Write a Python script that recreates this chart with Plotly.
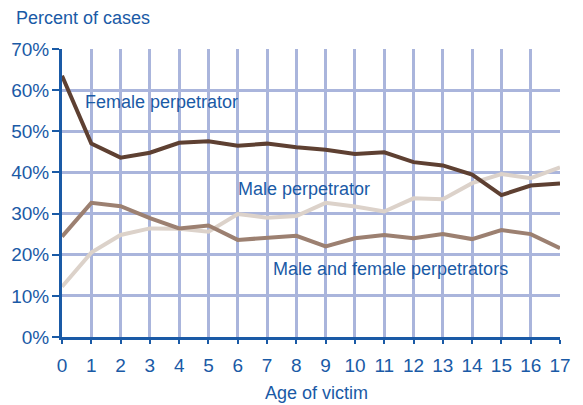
import plotly.graph_objects as go

ages = list(range(18))
female = [63.5, 47.0, 43.6, 44.8, 47.2, 47.6, 46.5, 47.0, 46.1, 45.5, 44.5, 44.9, 42.5, 41.7, 39.5, 34.5, 36.8, 37.3]
male = [12.2, 20.5, 24.8, 26.4, 26.3, 25.6, 29.9, 29.0, 29.4, 32.6, 31.7, 30.5, 33.7, 33.5, 37.4, 39.6, 38.6, 41.2]
both = [24.4, 32.6, 31.8, 28.9, 26.4, 27.1, 23.6, 24.0, 24.6, 22.0, 24.0, 24.8, 24.0, 25.0, 23.8, 26.0, 25.0, 21.6]
y_ticks = [0, 10, 20, 30, 40, 50, 60, 70]
y_ticklabels = [f"{v}%" for v in y_ticks]

blue = "#1a5aa6"
grid = "#aab5dc"
font = "Liberation Sans, Arial, sans-serif"

# page body has an 8px margin; plot area target in page px: x 62..560, y 49..337
L, R, T, B = 54, 31, 41, 76
PW, PH = 583 - L - R, 405 - T - B

fig = go.Figure()
fig.add_trace(go.Scatter(x=ages, y=male, mode="lines", line=dict(color="#dcd2ca", width=4), hoverinfo="skip"))
fig.add_trace(go.Scatter(x=ages, y=both, mode="lines", line=dict(color="#9c8071", width=4), hoverinfo="skip"))
fig.add_trace(go.Scatter(x=ages, y=female, mode="lines", line=dict(color="#5e4032", width=4), hoverinfo="skip"))

def label(x, y, text, **kw):
    fig.add_annotation(x=x, y=y, text=text, showarrow=False, xanchor="left", yanchor="middle",
                       font=dict(color=blue, size=18, family=font), **kw)

label(0.72, 57.0, "Female perpetrator")
label(5.93, 36.0, "Male perpetrator")
label(7.12, 16.6, "Male and female perpetrators")
label((14 - 8 - L) / PW, 1 + (41 + 8 - 18) / PH, "Percent of cases", xref="paper", yref="paper")
fig.add_annotation(x=(316 - 8 - L) / PW, y=-(393 - 337) / PH, xref="paper", yref="paper", text="Age of victim",
                   showarrow=False, xanchor="center", yanchor="middle",
                   font=dict(color=blue, size=18, family=font))

fig.update_layout(
    width=583, height=405,
    margin=dict(l=L, r=R, t=T, b=B),
    paper_bgcolor="white", plot_bgcolor="white",
    showlegend=False,
    font=dict(family=font, color=blue, size=18),
)

fig.update_xaxes(range=[0, 17], tickvals=ages, showgrid=True, gridcolor=grid, gridwidth=2.5,
                 showline=True, linecolor=blue, linewidth=3, ticks="outside", tickcolor=blue, ticklen=4, tickwidth=1.5,
                 ticklabelstandoff=5,
                 tickfont=dict(size=19, color=blue, family=font), zeroline=False, automargin=False)
fig.update_yaxes(range=[0, 70], tickvals=y_ticks, ticktext=y_ticklabels, showgrid=True, gridcolor=grid, gridwidth=2.5,
                 showline=True, linecolor=blue, linewidth=3, ticks="outside", tickcolor=blue, ticklen=7, tickwidth=1.5,
                 ticklabelstandoff=-1,
                 tickfont=dict(size=19, color=blue, family=font), zeroline=False, automargin=False)

fig.write_html("out.html")
